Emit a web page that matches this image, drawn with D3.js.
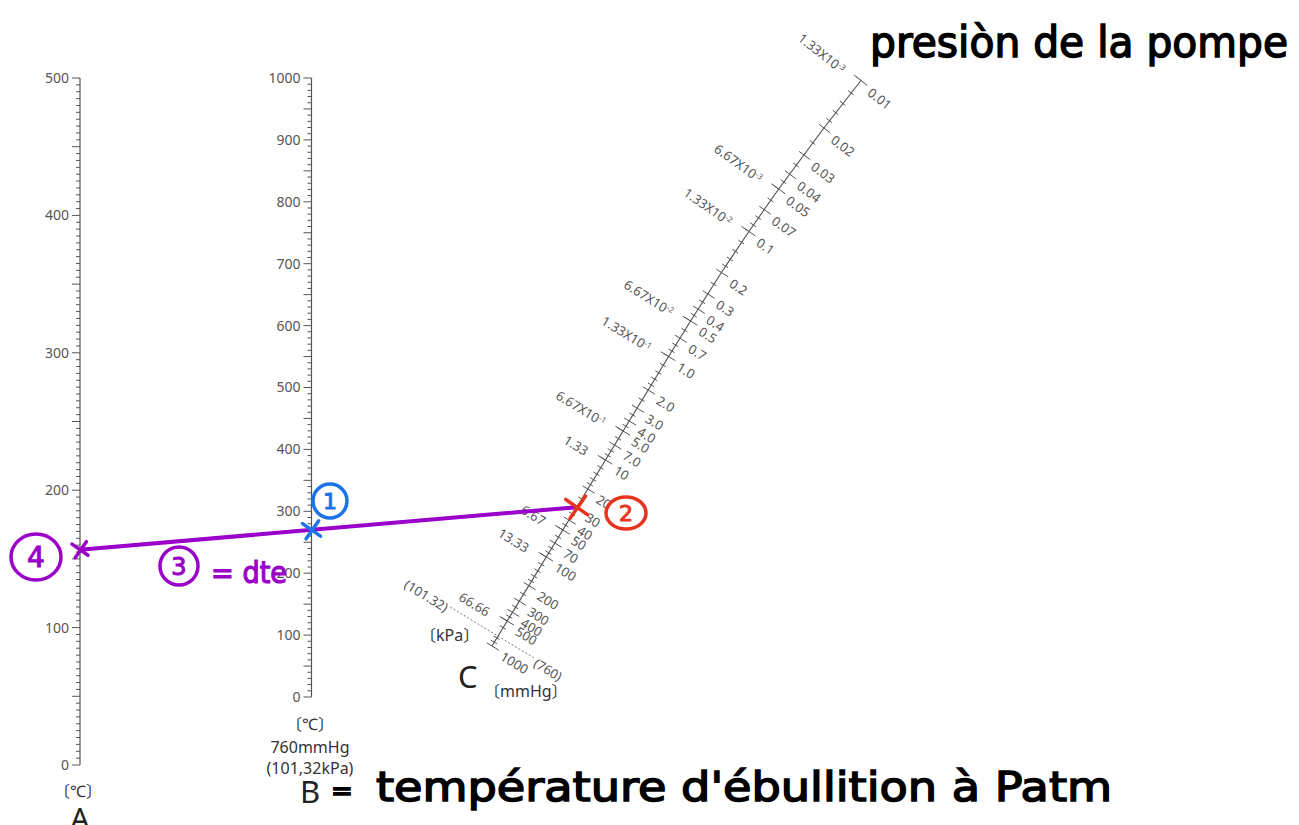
<!DOCTYPE html>
<html>
<head>
<meta charset="utf-8">
<script src="https://cdn.jsdelivr.net/npm/d3@7"></script>
<style>
  body { margin: 0; background: #fff; }
  svg text { font-family: "Noto Sans", "Noto Sans CJK JP", sans-serif; }
  .tick-label { fill: #555; font-size: 13px; }
  .ab-label { font-size: 14px; }
  .axis-line { stroke: #555; stroke-width: 1.2; fill: none; }
  .tick { stroke: #555; stroke-width: 1; }
  .title { fill: #333; font-size: 16px; }
  .big { fill: #222; font-size: 31px; }
  .hand { font-family: "DejaVu Sans", sans-serif; }
</style>
</head>
<body>
<svg id="chart" width="1299" height="825"></svg>
<script>
// scale A : boiling point at reduced pressure (°C)
const aLabels = [0, 100, 200, 300, 400, 500];
// scale B : boiling point at 760 mmHg (°C)
const bLabels = [0, 100, 200, 300, 400, 500, 600, 700, 800, 900, 1000];
// scale C : pressure (mmHg on the right, kPa on the left)
const cValues = [0.01, 0.02, 0.03, 0.04, 0.05, 0.07, 0.1, 0.2, 0.3, 0.4, 0.5, 0.7,
                 1, 2, 3, 4, 5, 7, 10, 20, 30, 40, 50, 70, 100, 200, 300, 400, 500, 1000];
const cLabels = ["0.01", "0.02", "0.03", "0.04", "0.05", "0.07", "0.1", "0.2", "0.3", "0.4", "0.5", "0.7",
                 "1.0", "2.0", "3.0", "4.0", "5.0", "7.0", "10", "20", "30", "40", "50", "70",
                 "100", "200", "300", "400", "500", "1000"];
const cDecades = [0.01, 0.1, 1, 10, 100];
const cMinorSteps = [1.2, 1.4, 1.6, 1.8, 2.5, 3.5, 4.5, 6, 8, 9];
const kpaValues = [0.01, 0.05, 0.1, 0.5, 1, 5, 10, 50, 100, 500];
const kpaLabels = ["1.33X10", "6.67X10", "1.33X10", "6.67X10", "1.33X10", "6.67X10", "1.33", "6.67", "13.33", "66.66"];
const kpaExponents = ["-3", "-3", "-2", "-2", "-1", "-1", "", "", "", ""];
const atmValue = 760;
const atmLabels = ["(101.32)", "(760)"];
// handwritten reading
const boilingAtm = 270;   // (1) on B
const pumpPressure = 30;  // (2) on C

const svg = d3.select("#chart");

// ---------- A and B, straight vertical scales
const ax = 80, bx = 311.5;
const aScale = d3.scaleLinear().domain([0, 500]).range([765, 78]);
const bScale = d3.scaleLinear().domain([0, 1000]).range([697, 78]);

function drawVertical(x, scale, labels, half) {
  let g = svg.append("g");
  g.append("line").attr("class", "axis-line")
    .attr("x1", x).attr("x2", x)
    .attr("y1", scale(scale.domain()[0])).attr("y2", scale(scale.domain()[1]));
  g.selectAll(".tick").data(scale.ticks(100)).enter().append("line")
    .attr("class", "tick")
    .attr("x1", d => x - (d % half === 0 ? 8 : 4)).attr("x2", x)
    .attr("y1", d => scale(d)).attr("y2", d => scale(d));
  g.selectAll(".tick-label").data(labels).enter().append("text")
    .attr("class", "tick-label ab-label")
    .attr("x", x - 11).attr("y", d => scale(d)).attr("dy", "0.35em")
    .attr("text-anchor", "end")
    .text(d => d);
}
drawVertical(ax, aScale, aLabels, 50);
drawVertical(bx, bScale, bLabels, 50);

// ---------- C, the slightly curved pressure scale
const cKnots = [0.01, 0.02, 0.05, 0.1, 0.2, 0.5, 1, 2, 5, 10, 20, 50, 100, 200, 500, 1000];
const cx = d3.scaleLog().domain(cKnots)
  .range([861, 823.9, 778.7, 748.9, 721.4, 690.6, 668.6, 648.2, 623.1, 605.5, 587.8, 562.8, 546.3, 528.8, 507.2, 492]);
const cy = d3.scaleLog().domain(cKnots)
  .range([80.5, 128, 189, 231.5, 272.5, 321, 356.5, 390, 431, 460, 489, 530, 557, 585.6, 621, 646]);

function frame(v) {
  let v1 = Math.max(0.01, v / 1.05), v2 = Math.min(1000, v * 1.05);
  let dx = cx(v2) - cx(v1), dy = cy(v2) - cy(v1);
  let l = Math.hypot(dx, dy);
  let dir = [dx / l, dy / l];
  let n = [dir[1], -dir[0]];
  return { p: [cx(v), cy(v)], dir: dir, n: n, ang: Math.atan2(n[1], n[0]) * 180 / Math.PI };
}
function at(f, off, along) {
  return [f.p[0] + f.n[0] * off + f.dir[0] * along, f.p[1] + f.n[1] * off + f.dir[1] * along];
}

let gc = svg.append("g");
gc.append("path").attr("class", "axis-line")
  .attr("d", d3.line()(cKnots.map(v => [cx(v), cy(v)])));

// minor ticks
const cMinor = cDecades.flatMap(d => cMinorSteps.map(m => +(d * m).toPrecision(3)));
gc.selectAll(".minor").data(cMinor).enter().append("line")
  .attr("class", "tick")
  .each(function(v) {
    let f = frame(v), a = at(f, -4, 0), b = at(f, 3, 0);
    d3.select(this).attr("x1", a[0]).attr("y1", a[1]).attr("x2", b[0]).attr("y2", b[1]);
  });
// kPa ticks (left side)
gc.selectAll(".kpa-tick").data(kpaValues).enter().append("line")
  .attr("class", "tick")
  .each(function(v) {
    let f = frame(v), a = at(f, -9, 0), b = at(f, 0, 0);
    d3.select(this).attr("x1", a[0]).attr("y1", a[1]).attr("x2", b[0]).attr("y2", b[1]);
  });
// mmHg ticks (right side labelled)
gc.selectAll(".major").data(cValues).enter().append("line")
  .attr("class", "tick")
  .each(function(v) {
    let f = frame(v), a = at(f, -6, 0), b = at(f, 8, 0);
    d3.select(this).attr("x1", a[0]).attr("y1", a[1]).attr("x2", b[0]).attr("y2", b[1]);
  });

// mmHg labels
gc.selectAll(".mm-label").data(cValues).enter().append("text")
  .attr("class", "tick-label")
  .attr("transform", v => { let f = frame(v), q = at(f, 13, 3); return `translate(${q[0]},${q[1]}) rotate(${f.ang})`; })
  .attr("dy", "0.35em")
  .text((v, i) => cLabels[i]);

// kPa labels
let kp = gc.selectAll(".kpa-label").data(kpaValues).enter().append("text")
  .attr("class", "tick-label")
  .attr("text-anchor", "end")
  .attr("transform", v => { let f = frame(v), q = at(f, -20, 3); return `translate(${q[0]},${q[1]}) rotate(${f.ang})`; })
  .attr("dy", "0.35em");
kp.append("tspan").text((v, i) => kpaLabels[i]);
kp.append("tspan").attr("dy", "-0.5em").attr("font-size", "8px").text((v, i) => kpaExponents[i]);

// atmospheric pressure dotted line
let fa = frame(atmValue);
let d1 = at(fa, -56, 0), d2 = at(fa, 43, 0);
gc.append("line").attr("x1", d1[0]).attr("y1", d1[1]).attr("x2", d2[0]).attr("y2", d2[1])
  .attr("stroke", "#777").attr("stroke-width", 1).attr("stroke-dasharray", "2,2");
let l1 = at(fa, -58, 3), l2 = at(fa, 45, 3);
gc.append("text").attr("class", "tick-label").attr("text-anchor", "end").attr("dy", "0.35em")
  .attr("transform", `translate(${l1[0]},${l1[1]}) rotate(${fa.ang})`).text(atmLabels[0]);
gc.append("text").attr("class", "tick-label").attr("dy", "0.35em")
  .attr("transform", `translate(${l2[0]},${l2[1]}) rotate(${fa.ang})`).text(atmLabels[1]);

// ---------- titles
svg.append("text").attr("class", "title").attr("x", 78).attr("y", 797).attr("text-anchor", "middle").text("〔℃〕");
svg.append("text").attr("class", "big").attr("x", 80).attr("y", 830).attr("text-anchor", "middle").text("A");
svg.append("text").attr("class", "title").attr("x", 310).attr("y", 730).attr("text-anchor", "middle").text("〔℃〕");
svg.append("text").attr("class", "title").attr("x", 310).attr("y", 753).attr("text-anchor", "middle").text("760mmHg");
svg.append("text").attr("class", "title").attr("x", 310).attr("y", 774).attr("text-anchor", "middle").text("(101,32kPa)");
svg.append("text").attr("class", "big").attr("x", 310).attr("y", 803).attr("text-anchor", "middle").text("B");
svg.append("text").attr("class", "title").attr("x", 420).attr("y", 641).text("〔kPa〕");
svg.append("text").attr("class", "big").attr("x", 458).attr("y", 688).text("C");
svg.append("text").attr("class", "title").attr("x", 484).attr("y", 697).text("〔mmHg〕");

// ---------- handwritten reading
const purple = "#9a00c9", blue = "#1a73e8", red = "#e8341e";
let pb = [bx, bScale(boilingAtm)];
let pc = [cx(pumpPressure), cy(pumpPressure)];
let slope = (pc[1] - pb[1]) / (pc[0] - pb[0]);
let pa = [ax, pb[1] + (ax - pb[0]) * slope];

svg.append("line")
  .attr("x1", pa[0]).attr("y1", pa[1]).attr("x2", pc[0]).attr("y2", pc[1])
  .attr("stroke", purple).attr("stroke-width", 4).attr("stroke-linecap", "round");

function cross(p, color, s) {
  svg.append("path")
    .attr("d", `M${p[0]-s},${p[1]-s*0.7}L${p[0]+s},${p[1]+s*0.7}M${p[0]+s*0.8},${p[1]-s}L${p[0]-s*0.6},${p[1]+s}`)
    .attr("stroke", color).attr("stroke-width", 3.5).attr("stroke-linecap", "round").attr("fill", "none");
}
cross(pb, blue, 9);
cross(pc, red, 11);
cross(pa, purple, 8);

function circled(x, y, rx, ry, color, digit, size) {
  svg.append("ellipse").attr("cx", x).attr("cy", y).attr("rx", rx).attr("ry", ry)
    .attr("fill", "none").attr("stroke", color).attr("stroke-width", 3.5);
  svg.append("text").attr("class", "hand").attr("x", x).attr("y", y).attr("dy", "0.36em")
    .attr("text-anchor", "middle").attr("font-size", size).attr("fill", color)
    .attr("stroke", color).attr("stroke-width", 1).text(digit);
}
circled(330, 501, 17, 17, blue, "1", 22);
circled(626, 513, 20, 16, red, "2", 22);
circled(179, 566, 19, 19, purple, "3", 24);
circled(36, 557, 25, 23, purple, "4", 28);

svg.append("text").attr("class", "hand").attr("x", 211).attr("y", 583)
  .attr("font-size", 30).attr("fill", purple).attr("stroke", purple).attr("stroke-width", 1.2)
  .attr("textLength", 76).attr("lengthAdjust", "spacingAndGlyphs").text("= dte");

svg.append("text").attr("class", "hand").attr("x", 870).attr("y", 57)
  .attr("font-size", 42).attr("fill", "#000").attr("stroke", "#000").attr("stroke-width", 1.5)
  .attr("textLength", 418).attr("lengthAdjust", "spacingAndGlyphs").text("presiòn de la pompe");

svg.append("text").attr("class", "hand").attr("x", 331).attr("y", 800)
  .attr("font-size", 26).attr("fill", "#000").attr("stroke", "#000").attr("stroke-width", 1.5)
  .text("=");
svg.append("text").attr("class", "hand").attr("x", 376).attr("y", 801)
  .attr("font-size", 40).attr("fill", "#000").attr("stroke", "#000").attr("stroke-width", 1.5)
  .attr("textLength", 736).attr("lengthAdjust", "spacingAndGlyphs").text("température d'ébullition à Patm");
</script>
</body>
</html>
